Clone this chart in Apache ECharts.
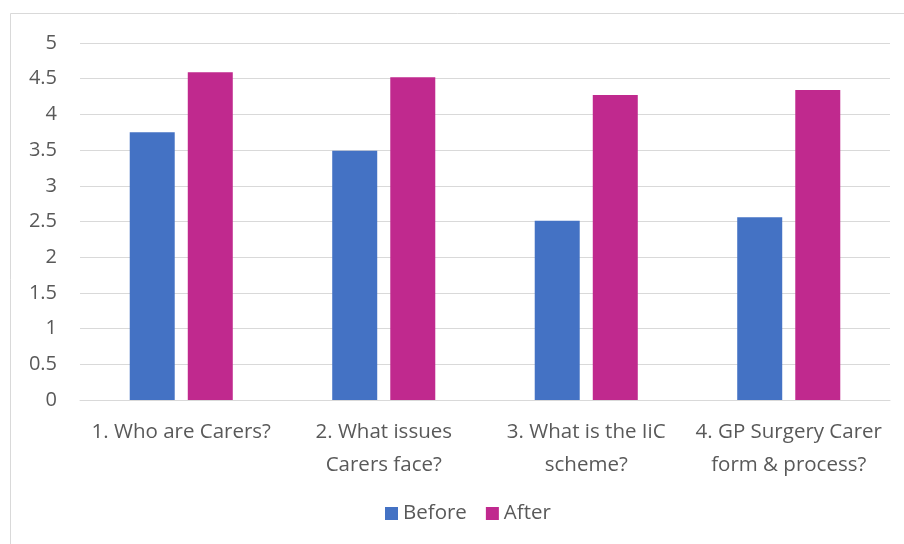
<!DOCTYPE html>
<html>
<head>
<meta charset="utf-8">
<script src="https://cdn.jsdelivr.net/npm/echarts@6/dist/echarts.min.js"></script>
<style>html,body{margin:0;padding:0;background:#fff}#c{width:904px;height:544px}</style>
</head>
<body>
<div id="c"></div>
<script>
const categories = ["1. Who are Carers?", "2. What issues\nCarers face?", "3. What is the IiC\nscheme?", "4. GP Surgery Carer\nform & process?"];
const beforeValues = [3.75, 3.49, 2.51, 2.56];
const afterValues = [4.59, 4.52, 4.27, 4.34];
const seriesNames = ["Before", "After"];

const chart = echarts.init(document.getElementById('c'), null, {renderer: 'canvas'});
const font = '"Open Sans"';
chart.setOption({
  backgroundColor: '#ffffff',
  animation: false,
  graphic: [{
    type: 'rect', shape: {x: 10.5, y: 13.5, width: 900, height: 540},
    style: {fill: 'none', stroke: '#d9d9d9', lineWidth: 1}, silent: true, z: -1
  }],
  grid: {left: 80, right: 14, top: 43, bottom: 144, containLabel: false},
  legend: {
    bottom: 15, left: 380, itemWidth: 13, itemHeight: 13, itemGap: 19,
    icon: 'rect',
    textStyle: {color: '#595959', fontSize: 20.5, fontFamily: font},
    data: seriesNames
  },
  xAxis: {
    type: 'category', data: categories,
    axisLine: {lineStyle: {color: '#d9d9d9'}},
    axisTick: {show: false},
    axisLabel: {color: '#595959', fontSize: 20.5, fontFamily: font, margin: 16, lineHeight: 33, interval: 0}
  },
  yAxis: {
    type: 'value', min: 0, max: 5, interval: 0.5,
    axisLine: {show: false}, axisTick: {show: false},
    splitLine: {lineStyle: {color: '#d9d9d9', width: 1}},
    axisLabel: {color: '#595959', fontSize: 20, fontFamily: font, margin: 23}
  },
  series: [
    {name: seriesNames[0], type: 'bar', data: beforeValues, barWidth: 45, barGap: '29%', itemStyle: {color: '#4472C4'}},
    {name: seriesNames[1], type: 'bar', data: afterValues, barWidth: 45, barGap: '29%', itemStyle: {color: '#C0298E'}}
  ]
});
</script>
</body>
</html>
